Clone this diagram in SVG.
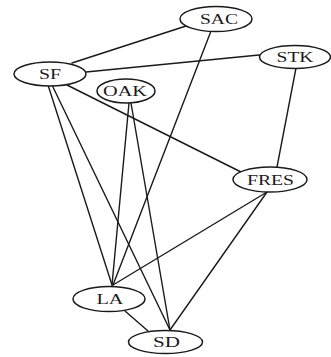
<svg xmlns="http://www.w3.org/2000/svg" width="331" height="357" viewBox="0 0 331 357">
  <style>
    .edge { stroke: #1a1a1a; stroke-width: 1.4; fill: none; stroke-linecap: round; }
    .node ellipse { fill: #ffffff; stroke: #1a1a1a; stroke-width: 1.5; }
    .node text { font-family: "Liberation Serif", "Times New Roman", serif; font-size: 14px; fill: #1a1a1a; text-anchor: middle; }
  </style>
  <rect width="331" height="357" fill="#ffffff"/>
  <g id="edges">
    <line class="edge" x1="72" y1="63" x2="186" y2="26"/>
    <line class="edge" x1="86" y1="72" x2="259" y2="55"/>
    <line class="edge" x1="67" y1="85" x2="241" y2="172"/>
    <line class="edge" x1="48" y1="85" x2="112" y2="285"/>
    <line class="edge" x1="52" y1="85" x2="170" y2="330"/>
    <line class="edge" x1="211" y1="31" x2="113" y2="285"/>
    <line class="edge" x1="129" y1="103" x2="112" y2="285"/>
    <line class="edge" x1="131" y1="103" x2="170" y2="330"/>
    <line class="edge" x1="296" y1="68" x2="277" y2="167"/>
    <line class="edge" x1="267" y1="192" x2="113" y2="285"/>
    <line class="edge" x1="267" y1="192" x2="170" y2="330"/>
    <line class="edge" x1="125" y1="311" x2="148" y2="331"/>
  </g>
  <g id="SAC" class="node">
    <ellipse cx="216" cy="19" rx="36" ry="12.5"/>
    <text x="219" y="24" textLength="38" lengthAdjust="spacingAndGlyphs">SAC</text>
  </g>
  <g id="STK" class="node">
    <ellipse cx="295" cy="57" rx="35.5" ry="11.5"/>
    <text x="295" y="62" textLength="37" lengthAdjust="spacingAndGlyphs">STK</text>
  </g>
  <g id="SF" class="node">
    <ellipse cx="50" cy="74" rx="36" ry="12"/>
    <text x="50" y="79" textLength="22" lengthAdjust="spacingAndGlyphs">SF</text>
  </g>
  <g id="OAK" class="node">
    <ellipse cx="126" cy="91" rx="29" ry="12"/>
    <text x="125" y="96" textLength="44" lengthAdjust="spacingAndGlyphs">OAK</text>
  </g>
  <g id="FRES" class="node">
    <ellipse cx="270" cy="179.5" rx="37" ry="12.5"/>
    <text x="270.5" y="184.5" textLength="47" lengthAdjust="spacingAndGlyphs">FRES</text>
  </g>
  <g id="LA" class="node">
    <ellipse cx="109" cy="299" rx="36" ry="12.5"/>
    <text x="110" y="304" textLength="27" lengthAdjust="spacingAndGlyphs">LA</text>
  </g>
  <g id="SD" class="node">
    <ellipse cx="165.5" cy="342" rx="37" ry="11.5"/>
    <text x="166.5" y="347" textLength="27" lengthAdjust="spacingAndGlyphs">SD</text>
  </g>
</svg>
